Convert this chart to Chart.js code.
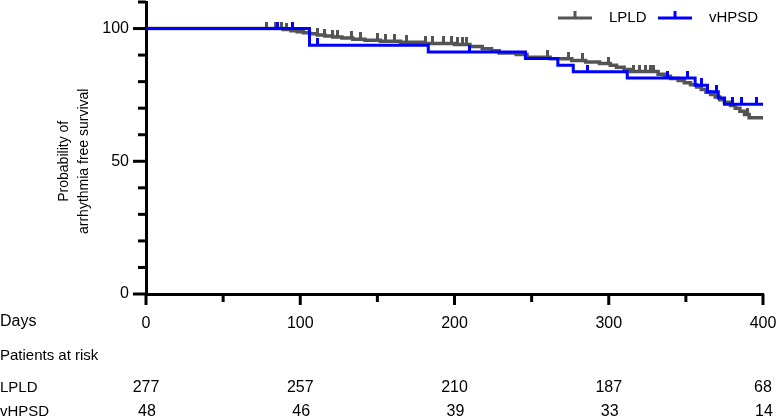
<!DOCTYPE html>
<html><head><meta charset="utf-8">
<script src="https://cdn.jsdelivr.net/npm/chart.js@4.4.1/dist/chart.umd.min.js"></script>
<style>html,body{margin:0;padding:0;background:#fff;}#wrap{width:777px;height:419px;}</style>
</head><body><div id="wrap"><canvas id="c" width="777" height="419"></canvas></div>
<script>
const seriesNames = ['LPLD', 'vHPSD'];
const lpldDays = [0, 89, 94, 98, 102, 106, 111, 116, 121, 127, 134, 142, 152, 165, 180, 200, 210, 218, 224, 229, 240, 247, 262, 276, 285, 294, 301, 305, 310, 314, 332, 336, 340, 345, 349, 353, 357, 360, 363, 366, 369, 372, 375, 379, 382, 385, 388, 391, 400];
const lpldSurv = [100, 99.6, 99.2, 98.8, 98.4, 98.0, 97.6, 97.2, 96.8, 96.4, 96.0, 95.6, 95.2, 94.8, 94.4, 94.0, 93.2, 92.4, 91.6, 90.8, 90.2, 89.2, 88.6, 88.0, 87.4, 86.8, 86.2, 85.4, 84.6, 83.8, 82.8, 82.0, 81.2, 80.4, 79.6, 78.8, 78.0, 77.0, 76.0, 75.2, 74.2, 73.2, 72.2, 71.0, 70.0, 68.8, 67.6, 66.4, 66.4];
const lpldCensorDays = [78, 84, 88, 91, 95, 111, 116, 121, 124, 133, 139, 150, 155, 161, 169, 181, 186, 193, 198, 202, 205, 208, 260, 274, 283, 300, 316, 320, 324, 327, 329, 390];
const vhpsdDays = [0, 106, 183, 246, 267, 277, 312, 356, 364, 371, 375, 400];
const vhpsdSurv = [100, 93.75, 91.2, 88.7, 86.2, 83.7, 81.4, 78.6, 76.2, 73.8, 71.5, 71.5];
const vhpsdCensorDays = [85, 95, 111, 210, 286, 338, 351, 360, 370, 380, 386, 396];
const xTickDays = [0, 100, 200, 300, 400];
const yTickValues = [0, 50, 100];
const atRiskLPLD = [277, 257, 210, 187, 68];
const atRiskVHPSD = [48, 46, 39, 33, 14];
const yTitleLines = ['Probability of', 'arrhythmia free survival'];

const GRAY = '#545454', BLUE = '#0000ff';
const FONT = '"Liberation Sans", Arial, Helvetica, sans-serif';

function survAt(days, surv, d) {
  let v = surv[0];
  for (let i = 0; i < days.length; i++) if (days[i] <= d) v = surv[i];
  return v;
}
function makeTick(color, w, h) {
  const c = document.createElement('canvas');
  c.width = w; c.height = h * 2;
  const g = c.getContext('2d');
  g.fillStyle = color; g.fillRect(0, 0, w, h);
  return c;
}
const grayTick = makeTick(GRAY, 3, 7);
const blueTick = makeTick(BLUE, 3, 7);

const curve = (days, surv) => days.map((d, i) => ({x: d, y: surv[i]}));
const censors = (cd, days, surv) => cd.map(d => ({x: d, y: survAt(days, surv, d)}));

const extras = {
  id: 'extras',
  afterDraw(chart) {
    const ctx = chart.ctx, xs = chart.scales.x, ys = chart.scales.y;
    const area = chart.chartArea;
    ctx.save();
    ctx.strokeStyle = '#000'; ctx.lineWidth = 3; ctx.lineCap = 'butt';
    for (let v = 0; v <= 110; v += 10) {
      const y = ys.getPixelForValue(v), len = v % 50 === 0 ? 13 : 8;
      ctx.beginPath(); ctx.moveTo(area.left - len, y); ctx.lineTo(area.left, y); ctx.stroke();
    }
    for (let v = 0; v <= 400; v += 50) {
      const x = xs.getPixelForValue(v), len = v % 100 === 0 ? 11 : 8;
      ctx.beginPath(); ctx.moveTo(x, area.bottom); ctx.lineTo(x, area.bottom + len); ctx.stroke();
    }
    ctx.fillStyle = '#000';
    ctx.font = '14px ' + FONT;
    ctx.textAlign = 'center'; ctx.textBaseline = 'middle';
    const yc = (ys.getPixelForValue(0) + ys.getPixelForValue(100)) / 2;
    yTitleLines.forEach((t, i) => {
      ctx.save(); ctx.translate(64 + i * 20, yc); ctx.rotate(-Math.PI / 2);
      ctx.fillText(t, 0, 0); ctx.restore();
    });
    ctx.textAlign = 'left';
    ctx.font = '16px ' + FONT;
    ctx.fillText('Days', 0, 322);
    ctx.font = '15px ' + FONT;
    ctx.fillText('Patients at risk', 0, 356);
    ctx.fillText(seriesNames[0], 0, 388);
    ctx.fillText(seriesNames[1], 0, 412);
    ctx.textAlign = 'center';
    ctx.font = '16px ' + FONT;
    xTickDays.forEach((d, i) => {
      const x = xs.getPixelForValue(d);
      ctx.fillText(String(atRiskLPLD[i]), x, 388);
      ctx.fillText(String(atRiskVHPSD[i]), x + 1, 412);
    });
    const items = [{c: GRAY, w: 3, x: 558, label: seriesNames[0]}, {c: BLUE, w: 3, x: 658, label: seriesNames[1]}];
    items.forEach(it => {
      ctx.strokeStyle = it.c; ctx.lineWidth = it.w;
      ctx.beginPath(); ctx.moveTo(it.x, 18); ctx.lineTo(it.x + 34, 18); ctx.stroke();
      ctx.beginPath(); ctx.moveTo(it.x + 17, 18); ctx.lineTo(it.x + 17, 11); ctx.stroke();
      ctx.fillStyle = '#000'; ctx.textAlign = 'left'; ctx.font = '15px ' + FONT;
      ctx.fillText(it.label, it.x + 51, 18);
    });
    ctx.restore();
  }
};

function zeroPad(s) { s.paddingLeft = 0; s.paddingRight = 0; s.paddingTop = 0; s.paddingBottom = 0; }

new Chart(document.getElementById('c'), {
  type: 'line',
  data: {
    datasets: [
      {label: seriesNames[0], data: curve(lpldDays, lpldSurv), borderColor: GRAY, borderWidth: 3.5, stepped: true, pointRadius: 0, fill: false, order: 2},
      {label: seriesNames[0] + ' censored', data: censors(lpldCensorDays, lpldDays, lpldSurv), showLine: false, pointStyle: grayTick, pointRadius: 3, borderColor: GRAY, backgroundColor: GRAY, order: 2},
      {label: seriesNames[1], data: curve(vhpsdDays, vhpsdSurv), borderColor: BLUE, borderWidth: 3, stepped: true, pointRadius: 0, fill: false, order: 1},
      {label: seriesNames[1] + ' censored', data: censors(vhpsdCensorDays, vhpsdDays, vhpsdSurv), showLine: false, pointStyle: blueTick, pointRadius: 3, borderColor: BLUE, backgroundColor: BLUE, order: 1}
    ]
  },
  options: {
    responsive: false, animation: false, devicePixelRatio: 1, events: [],
    layout: {autoPadding: false, padding: {top: 2, right: 14, bottom: 0, left: 0}},
    plugins: {legend: {display: false}, tooltip: {enabled: false}},
    scales: {
      x: {
        type: 'linear', min: 0, max: 400,
        afterFit: s => { s.height = 125; zeroPad(s); },
        afterBuildTicks: s => { s.ticks = xTickDays.map(v => ({value: v})); },
        grid: {display: true, drawOnChartArea: false, drawTicks: false},
        border: {display: true, color: '#000', width: 3},
        ticks: {padding: 20, color: '#000', font: {family: FONT, size: 16}, maxRotation: 0, autoSkip: false}
      },
      y: {
        type: 'linear', min: 0, max: 110,
        afterFit: s => { s.width = 146; zeroPad(s); },
        afterBuildTicks: s => { s.ticks = yTickValues.map(v => ({value: v})); },
        grid: {display: true, drawOnChartArea: false, drawTicks: false},
        border: {display: true, color: '#000', width: 3},
        ticks: {padding: 17, color: '#000', font: {family: FONT, size: 16}}
      }
    }
  },
  plugins: [extras]
});
</script></body></html>
